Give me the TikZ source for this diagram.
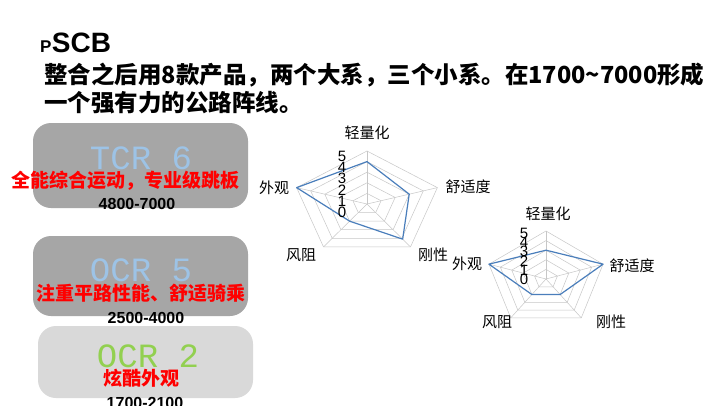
\documentclass[tikz,border=0pt]{standalone}
\usepackage{fontspec}
\setmainfont{Liberation Sans}
\newfontfamily\cjk{Noto Sans CJK SC}
\newfontfamily\mono{Liberation Mono}
\definecolor{dgray}{HTML}{A6A6A6}
\definecolor{lgray}{HTML}{D9D9D9}
\definecolor{tblue}{HTML}{9DC3E6}
\definecolor{tgreen}{HTML}{92D050}
\definecolor{dline}{HTML}{4A7EBB}
\definecolor{redt}{HTML}{FF0000}
\begin{document}
\begin{tikzpicture}[x=1pt,y=-1pt,
  box/.style={rounded corners=18pt},
  model/.style={font=\mono\fontsize{34}{34}\selectfont},
  redlab/.style={text=redt,font=\cjk\bfseries\fontsize{19}{19}\selectfont,inner sep=0pt},
  price/.style={font=\bfseries\fontsize{16}{16}\selectfont,inner sep=0pt},
  axlab/.style={font=\cjk\fontsize{15}{15}\selectfont,inner sep=0pt},
  numlab/.style={font=\fontsize{15}{10}\selectfont,inner sep=0pt},
  grid/.style={draw=black!22,line width=0.5pt},
  data/.style={draw=dline,line width=1.2pt,line join=round}]
\useasboundingbox (0,0) rectangle (720,405);
\fill[white] (0,0) rectangle (720,405);
% title
\node[anchor=base west,inner sep=0pt,font=\bfseries\fontsize{17}{17}\selectfont] (p) at (40,52) {P};
\node[anchor=base west,inner sep=0pt,font=\bfseries\fontsize{28}{28}\selectfont] (scb) at (p.base east) {SCB};
\node[anchor=base west,inner sep=0pt,font=\cjk\bfseries\fontsize{23.5}{23.5}\selectfont] (l1) at (44,83) {整合之后用8款产品，两个大系，三个小系。在1700\textasciitilde7000形成};
\node[anchor=base west,inner sep=0pt,font=\cjk\bfseries\fontsize{23.5}{23.5}\selectfont] (l2) at (44,111) {一个强有力的公路阵线。};
% boxes
\fill[dgray,box] (33,123) rectangle (248,208);
\fill[dgray,box] (33,236) rectangle (248,316);
\fill[lgray,box] (38,326) rectangle (253,398);
\node[model,text=tblue] (m1) at (141,158) {TCR 6};
\node[redlab] (r1) at (126,181) {全能综合运动，专业级跳板};
\node[price] (p1) at (137,204) {4800-7000};
\node[model,text=tblue] (m2) at (141,270) {OCR 5};
\node[redlab] (r2) at (141,293) {注重平路性能、舒适骑乘};
\node[price] (p2) at (146,318) {2500-4000};
\node[model,text=tgreen] (m3) at (148,356) {OCR 2};
\node[redlab] (r3) at (141,378) {炫酷外观};
\node[price] (p3) at (145,403) {1700-2100};
% radar 1
\begin{scope}[shift={(367,204)},x=74pt,y=53pt]
  \foreach \r in {1,...,5}{
    \draw[grid] (90:\r/5) -- (18:\r/5) -- (-54:\r/5) -- (-126:\r/5) -- (162:\r/5) -- cycle;}
  \foreach \a in {90,18,-54,-126,162}{\draw[grid] (0,0) -- (\a:1);}
  \draw[data] (90:4/5) -- (18:3/5) -- (-54:4.1/5) -- (-126:2/5) -- (162:1) -- cycle;
\end{scope}
\foreach \n [count=\i] in {5,4,3,2,1,0}{\node[numlab] (a\n) at (342,145+\i*11.2) {\n};}
\node[axlab] (t1) at (367,133) {轻量化};
\node[axlab] (t2) at (468,187) {舒适度};
\node[axlab] (t3) at (433,255) {刚性};
\node[axlab] (t4) at (301,255) {风阻};
\node[axlab] (t5) at (274,188) {外观};
% radar 2
\begin{scope}[shift={(546,279)},x=60pt,y=48pt]
  \foreach \r in {1,...,5}{
    \draw[grid] (90:\r/5) -- (18:\r/5) -- (-54:\r/5) -- (-126:\r/5) -- (162:\r/5) -- cycle;}
  \foreach \a in {90,18,-54,-126,162}{\draw[grid] (0,0) -- (\a:1);}
  \draw[data] (90:3/5) -- (18:1) -- (-54:2/5) -- (-126:2/5) -- (162:1) -- cycle;
\end{scope}
\foreach \n [count=\i] in {5,4,3,2,1,0}{\node[numlab] (b\n) at (524,224+\i*9.2) {\n};}
\node[axlab] (s1) at (548,214) {轻量化};
\node[axlab] (s2) at (632,266) {舒适度};
\node[axlab] (s3) at (611,322) {刚性};
\node[axlab] (s4) at (497,322) {风阻};
\node[axlab] (s5) at (467,264) {外观};
\end{tikzpicture}
\end{document}
